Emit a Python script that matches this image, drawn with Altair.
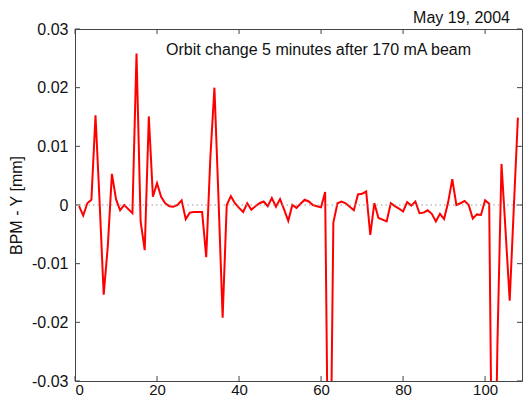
import altair as alt
import pandas as pd

# BPM index (1..108) and vertical orbit change [mm]
bpm_index = list(range(1, 109))
bpm_y = [
    -0.0002, -0.0018, 0.0003, 0.0009, 0.0153, 0.0005, -0.0153, -0.0070, 0.0053, 0.0010,
    -0.0009, 0.0000, -0.0007, -0.0014, 0.0258, -0.0028, -0.0077, 0.0151, 0.0014, 0.0037,
    0.0014, 0.0003, -0.0002, -0.0003, 0.0000, 0.0008, -0.0024, -0.0013, -0.0012, -0.0012,
    -0.0012, -0.0089, 0.0080, 0.0200, 0.0010, -0.0192, 0.0000, 0.0015, 0.0003, -0.0005,
    -0.0012, 0.0003, -0.0008, -0.0002, 0.0003, 0.0006, -0.0002, 0.0012, -0.0003, 0.0010,
    -0.0008, -0.0027, 0.0000, -0.0005, 0.0002, 0.0009, 0.0006, 0.0000, -0.0002, -0.0004,
    0.0022, -0.0650, -0.0030, 0.0003, 0.0006, 0.0003, -0.0003, -0.0009, 0.0018, 0.0019,
    0.0023, -0.0051, 0.0003, -0.0022, -0.0025, -0.0028, 0.0003, -0.0002, -0.0006, -0.0011,
    0.0005, -0.0001, 0.0006, -0.0014, -0.0013, -0.0009, -0.0015, -0.0028, -0.0015, -0.0024,
    0.0005, 0.0044, 0.0000, 0.0003, 0.0007, 0.0000, -0.0023, -0.0016, -0.0017, 0.0008,
    0.0002, -0.0700, -0.0240, 0.0070, -0.0045, -0.0163, -0.0005, 0.0149,
]

x_ticks = [0, 20, 40, 60, 80, 100]
y_ticks = [-0.03, -0.02, -0.01, 0.0, 0.01, 0.02, 0.03]

title_text = "Orbit change 5 minutes after 170 mA beam"
date_text = "May 19, 2004"
y_title = "BPM - Y [mm]"

FONT = "Liberation Sans"
W, H = 447, 352

df = pd.DataFrame({"x": bpm_index, "y": bpm_y})
xt = pd.DataFrame({"x": x_ticks})
yt = pd.DataFrame({"y": y_ticks})
zd = pd.DataFrame({"y": [0.0]})

xscale = alt.Scale(domain=[0, 109], nice=False, zero=False)
yscale = alt.Scale(domain=[-0.03, 0.03], nice=False, zero=False)

x_axis = alt.Axis(values=x_ticks, grid=False, domain=False, tickSize=0, labelPadding=1,
                  labelFontSize=15, labelFont=FONT, labelColor="#111111")
y_axis = alt.Axis(values=y_ticks, grid=False, domain=False, tickSize=0, labelPadding=7,
                  labelFontSize=16, labelFont=FONT, labelColor="#111111",
                  labelExpr="datum.value == 0 ? '0' : (datum.value < 0 ? '-' : '') + format(abs(datum.value), '.2f')",
                  titleFont=FONT, titleFontSize=16, titleFontWeight="normal",
                  titleColor="#111111", titleX=-59, titleY=176,
                  titleAngle=270, titleAlign="center", titleBaseline="middle")

X = alt.X("x:Q", scale=xscale, axis=x_axis, title=None)
Y = alt.Y("y:Q", scale=yscale, axis=y_axis, title=y_title)

zero = alt.Chart(zd).mark_rule(color="#999999", strokeWidth=1, strokeDash=[1.5, 3]).encode(y=Y)

line = alt.Chart(df).mark_line(color="#ff0000", strokeWidth=2, clip=True).encode(x=X, y=Y)

tick_color = "#444444"
bottom_ticks = alt.Chart(xt).mark_rule(color=tick_color).encode(
    x=X, y=alt.value(H), y2=alt.value(H - 5))
top_ticks = alt.Chart(xt).mark_rule(color=tick_color).encode(
    x=X, y=alt.value(0), y2=alt.value(5))
left_ticks = alt.Chart(yt).mark_rule(color=tick_color).encode(
    y=Y, x=alt.value(0), x2=alt.value(5))
right_ticks = alt.Chart(yt).mark_rule(color=tick_color).encode(
    y=Y, x=alt.value(W), x2=alt.value(W - 5))

title_mark = alt.Chart(pd.DataFrame({"t": [title_text]})).mark_text(
    align="left", baseline="alphabetic", font=FONT, fontSize=16, color="#111111"
).encode(text="t:N", x=alt.value(91), y=alt.value(26))

date_mark = alt.Chart(pd.DataFrame({"t": [date_text]})).mark_text(
    align="right", baseline="alphabetic", font=FONT, fontSize=16, color="#111111"
).encode(text="t:N", x=alt.value(435), y=alt.value(-6))

chart = alt.layer(
    line, zero, bottom_ticks, top_ticks, left_ticks, right_ticks, title_mark, date_mark
).properties(
    width=W, height=H,
    autosize=alt.AutoSizeParams(type="none"),
    padding={"left": 75, "top": 29, "right": 1, "bottom": 16},
    background="white",
).configure_view(stroke="#444444", strokeWidth=1)

chart.save("out.html", embed_options={"renderer": "svg", "actions": False})
